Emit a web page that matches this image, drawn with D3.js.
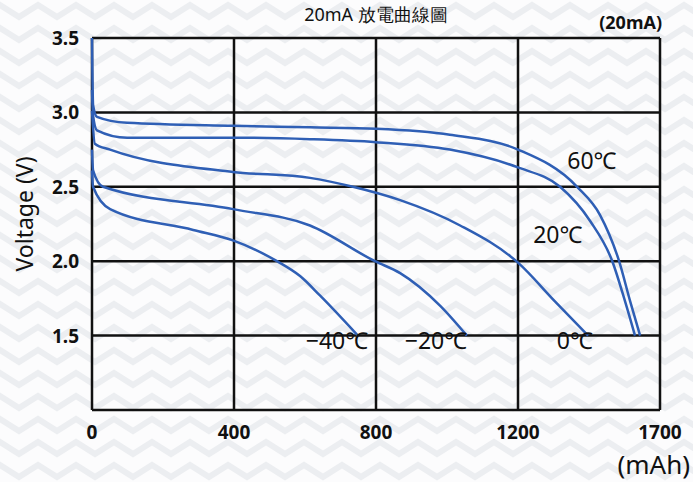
<!DOCTYPE html>
<html lang="zh-Hant">
<head>
    <meta charset="UTF-8">
    <title>20mA 放電曲線圖</title>
    <script src="https://cdn.jsdelivr.net/npm/d3@7"></script>
    <style>
        body { margin: 0; background: #fff; }
        text { font-family: 'Noto Sans', 'DejaVu Sans', sans-serif; fill: #111; }
    </style>
</head>
<body>
<script>
    // data (mAh, V)
    const series = ['60℃', '20℃', '0℃', '−20℃', '−40℃']
    const cap60 = [0, 3, 14, 99, 397, 614, 800, 1008, 1200, 1408, 1489, 1556, 1595, 1630]
    const volt60 = [3.5, 3.05, 2.97, 2.93, 2.91, 2.90, 2.89, 2.85, 2.75, 2.50, 2.31, 2.00, 1.73, 1.50]
    const cap20 = [0, 3, 14, 99, 397, 614, 800, 1008, 1200, 1348, 1454, 1532, 1577, 1612]
    const volt20 = [3.15, 2.98, 2.88, 2.83, 2.83, 2.82, 2.80, 2.75, 2.63, 2.50, 2.27, 2.00, 1.73, 1.50]
    const cap0 = [0, 8, 51, 397, 614, 735, 868, 1037, 1200, 1330, 1447]
    const volt0 = [3.01, 2.79, 2.75, 2.60, 2.56, 2.50, 2.41, 2.24, 1.99, 1.73, 1.50]
    const capM20 = [0, 3, 31, 397, 614, 797, 868, 981, 1056]
    const voltM20 = [2.75, 2.61, 2.50, 2.35, 2.24, 2.00, 1.92, 1.70, 1.50]
    const capM40 = [0, 3, 51, 285, 397, 521, 586, 642, 749]
    const voltM40 = [2.61, 2.50, 2.35, 2.21, 2.14, 2.00, 1.90, 1.77, 1.50]
    const xTicks = [0, 400, 800, 1200, 1700]
    const yTicks = [1.5, 2.0, 2.5, 3.0, 3.5]

    const [width, height] = [693, 482]
    const margin = {top: 38, right: 33, bottom: 72, left: 92}
    const svg = d3.select('body').append('svg').attr('width', width).attr('height', height)

    // chevron background
    const pat = svg.append('defs').append('pattern').attr('id', 'chev')
        .attr('width', 38).attr('height', 23).attr('patternUnits', 'userSpaceOnUse')
    pat.append('rect').attr('width', 38).attr('height', 23).attr('fill', '#fcfcfd')
    pat.append('path').attr('d', 'M-19,17 L0,5 L19,17 L38,5 L57,17')
        .attr('fill', 'none').attr('stroke', '#eceef1').attr('stroke-width', 6)
    svg.append('rect').attr('width', width).attr('height', height).attr('fill', 'url(#chev)')

    const plotW = width - margin.left - margin.right
    const plotH = height - margin.top - margin.bottom
    // last cell of the original chart spans 1200..1700
    const x = d3.scaleLinear().domain([0, 1200, 1700]).range([0, plotW * 3 / 4, plotW])
    const y = d3.scaleLinear().domain([1.0, 3.5]).range([plotH, 0])

    const g = svg.append('g').attr('transform', `translate(${margin.left},${margin.top})`)

    // grid
    g.selectAll('line.vgrid').data(xTicks).enter().append('line').attr('class', 'vgrid')
        .attr('x1', d => x(d)).attr('x2', d => x(d)).attr('y1', 0).attr('y2', plotH)
        .attr('stroke', '#111').attr('stroke-width', 2.5)
    g.selectAll('line.hgrid').data([1.0].concat(yTicks)).enter().append('line').attr('class', 'hgrid')
        .attr('x1', 0).attr('x2', plotW).attr('y1', d => y(d)).attr('y2', d => y(d))
        .attr('stroke', '#111').attr('stroke-width', 2.5)

    // tick labels
    g.selectAll('text.xt').data(xTicks).enter().append('text').attr('class', 'xt')
        .attr('x', d => x(d)).attr('y', plotH + 29).attr('text-anchor', 'middle')
        .attr('font-size', 19).attr('font-weight', 'bold').text(d => d)
    g.selectAll('text.yt').data(yTicks).enter().append('text').attr('class', 'yt')
        .attr('x', -13).attr('y', d => y(d) + 7).attr('text-anchor', 'end')
        .attr('font-size', 19).attr('font-weight', 'bold').text(d => d.toFixed(1))

    // curves
    const caps = [cap60, cap20, cap0, capM20, capM40]
    const volts = [volt60, volt20, volt0, voltM20, voltM40]
    const line = d3.line().x(d => x(d[0])).y(d => y(d[1])).curve(d3.curveMonotoneX)
    series.forEach((s, i) => {
        g.append('path').datum(d3.zip(caps[i], volts[i]))
            .attr('fill', 'none').attr('stroke', '#2f5fb5').attr('stroke-width', 2.5)
            .attr('d', line)
    })

    // series labels
    const labelPos = [[1460, 2.62], [1340, 2.12], [1400, 1.41], [969, 1.41], [690, 1.41]]
    series.forEach((s, i) => {
        g.append('text').attr('x', x(labelPos[i][0])).attr('y', y(labelPos[i][1]))
            .attr('text-anchor', 'middle').attr('font-size', 23).text(s)
    })

    // titles
    svg.append('text').attr('x', 376).attr('y', 21).attr('text-anchor', 'middle')
        .attr('font-size', 18).attr('font-family', 'Noto Sans CJK TC').text('20mA 放電曲線圖')
    svg.append('text').attr('x', 662).attr('y', 29).attr('text-anchor', 'end')
        .attr('font-size', 18).attr('font-weight', 'bold').text('(20mA)')
    svg.append('text').attr('x', 690).attr('y', 474).attr('text-anchor', 'end')
        .attr('font-size', 26).text('(mAh)')
    svg.append('text').attr('transform', 'translate(33,214) rotate(-90)')
        .attr('text-anchor', 'middle').attr('font-size', 23).text('Voltage (V)')
</script>
</body>
</html>
